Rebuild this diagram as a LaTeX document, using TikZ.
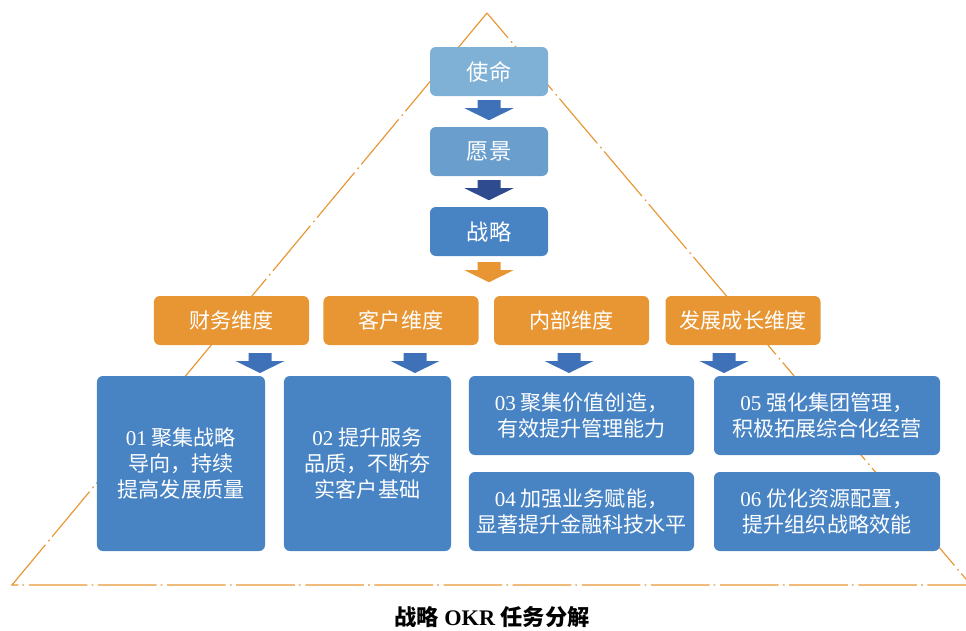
\documentclass[tikz,border=0pt]{standalone}
\usepackage{fontspec}
\setmainfont{Liberation Serif}
\newfontfamily\cjk{Noto Sans CJK SC}
\usetikzlibrary{calc}
\definecolor{okrlight}{HTML}{7FB0D5}
\definecolor{okrmid}{HTML}{6A9FCD}
\definecolor{okrblue}{HTML}{4884C4}
\definecolor{okrarrow}{HTML}{3F71B9}
\definecolor{okrnavy}{HTML}{2D4B8E}
\definecolor{okrorange}{HTML}{E89634}
\tikzset{
	box/.style={
			rounded corners=5pt, text=white, align=center, inner sep=2pt,
			font=\cjk\fontsize{18pt}{22.5pt}\selectfont
		},
	topbox/.style={box, minimum width=3.54cm, minimum height=1.47cm,
			font=\cjk\fontsize{19pt}{22pt}\selectfont},
	dimbox/.style={box, fill=okrorange, minimum width=4.65cm, minimum height=1.47cm},
	taskbox/.style={box, fill=okrblue},
	trisides/.style={draw=okrorange, line width=1pt,
			dash pattern=on 50pt off 3.5pt on 1.5pt off 4pt}
}
% block arrow pointing down, #1 colour, #2 top centre
\newcommand{\blockarrow}[2]{
	\fill[#1] ($#2+(-11.5,0)$) -- ++(23,0) -- ++(0,8) -- ++(13,0)
	-- ++(-24.5,12) -- ++(-24.5,-12) -- ++(13,0) -- cycle;
}
\newcommand{\tasknum}[1]{{\rmfamily #1}}

\begin{document}
\begin{tikzpicture}[x=0.03cm, y=-0.03cm]
	\useasboundingbox (0,0) rectangle (966,630);

	% The triangle behind everything
	\coordinate (apex) at (487,13);
	\coordinate (baseL) at (12,585);
	\coordinate (baseR) at (971,585);
	\draw[trisides] (apex) -- (baseL) -- (baseR) -- cycle;

	% Mission, vision, strategy
	\node[topbox, fill=okrlight] (mission) at (489,71.5) {使命};
	\node[topbox, fill=okrmid] (vision) at (489,151.5) {愿景};
	\node[topbox, fill=okrblue] (strategy) at (489,231.5) {战略};

	\blockarrow{okrarrow}{($(mission.south)+(0,4)$)}
	\blockarrow{okrnavy}{($(vision.south)+(0,4)$)}
	\blockarrow{okrorange}{($(strategy.south)+(0,6)$)}

	% The four dimensions
	\node[dimbox] (finance) at (231.5,320.5) {财务维度};
	\node[dimbox] (customer) at (401,320.5) {客户维度};
	\node[dimbox] (internal) at (571.5,320.5) {内部维度};
	\node[dimbox] (growth) at (743,320.5) {发展成长维度};

	\foreach \x in {260,415,569,724} {
		\blockarrow{okrarrow}{(\x,353)}
	}

	% Tasks
	\node[taskbox, minimum width=5.04cm, minimum height=5.25cm] (task1) at (181,463.5)
		{\tasknum{01} 聚集战略\\导向，持续\\提高发展质量};
	\node[taskbox, minimum width=5.01cm, minimum height=5.25cm] (task2) at (367.5,463.5)
		{\tasknum{02} 提升服务\\品质，不断夯\\实客户基础};
	\node[taskbox, minimum width=6.75cm, minimum height=2.37cm] (task3) at (581.5,415.5)
		{\tasknum{03} 聚集价值创造，\\有效提升管理能力};
	\node[taskbox, minimum width=6.75cm, minimum height=2.37cm] (task4) at (581.5,511.5)
		{\tasknum{04} 加强业务赋能，\\显著提升金融科技水平};
	\node[taskbox, minimum width=6.78cm, minimum height=2.37cm] (task5) at (827,415.5)
		{\tasknum{05} 强化集团管理，\\积极拓展综合化经营};
	\node[taskbox, minimum width=6.78cm, minimum height=2.37cm] (task6) at (827,511.5)
		{\tasknum{06} 优化资源配置，\\提升组织战略效能};

	% Caption
	\node[font=\fontsize{19pt}{22pt}\selectfont\bfseries] (caption) at (492,617)
		{{\cjk 战略} OKR {\cjk 任务分解}};
\end{tikzpicture}
\end{document}
